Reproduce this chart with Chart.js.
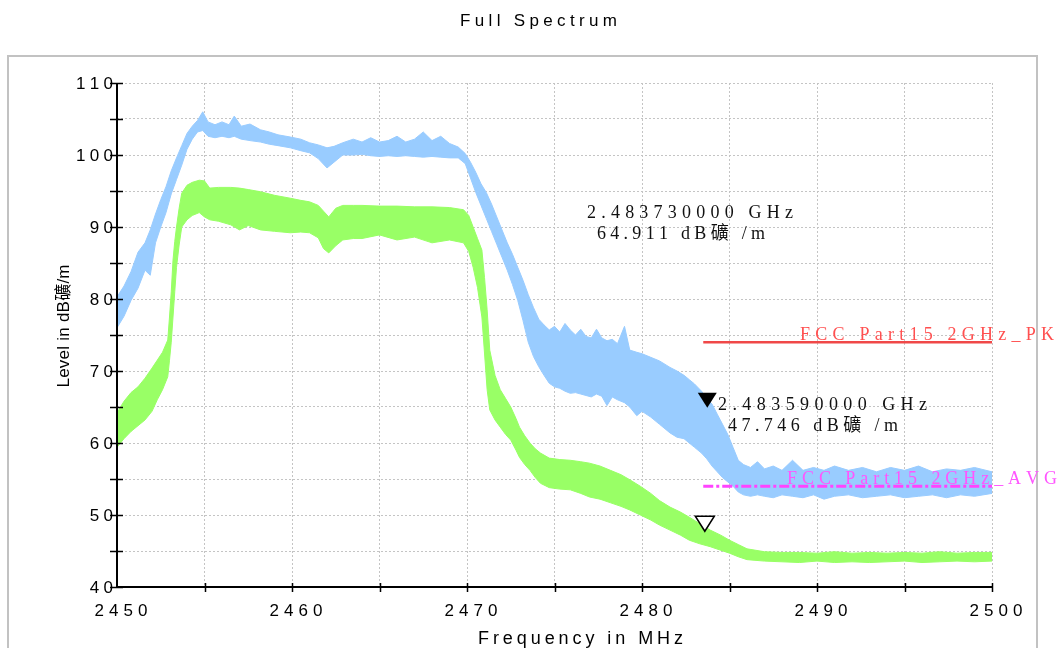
<!DOCTYPE html>
<html><head><meta charset="utf-8">
<script src="https://cdn.jsdelivr.net/npm/chart.js@4.4.1/dist/chart.umd.min.js"></script>
<style>html,body{margin:0;padding:0;background:#fff;overflow:hidden}canvas{display:block}</style>
</head><body>
<canvas id="c" width="1057" height="648"></canvas>
<script>
// ---- tick labels ----
const xTickLabels = [2450, 2460, 2470, 2480, 2490, 2500];
const yTickLabels = [40, 50, 60, 70, 80, 90, 100, 110];

// ---- peak trace (light blue) envelope: frequency MHz, upper / lower level dBuV/m ----
const blueFreq = [2450.0,2450.4,2450.8,2451.2,2451.6,2451.9,2452.2,2452.5,2452.8,2453.1,
  2453.4,2453.7,2454.0,2454.3,2454.6,2454.9,2455.2,2455.6,2456.0,2456.4,
  2456.7,2457.1,2457.6,2458.2,2458.7,2459.2,2459.9,2460.5,2461.0,2461.5,
  2462.0,2462.4,2462.9,2463.5,2464.0,2464.5,2465.0,2465.5,2466.0,2466.5,
  2467.0,2467.5,2468.0,2468.5,2469.0,2469.5,2469.9,2470.2,2470.5,2470.8,
  2471.1,2471.4,2471.7,2472.0,2472.3,2472.6,2472.9,2473.2,2473.5,2473.8,
  2474.1,2474.4,2474.7,2475.0,2475.3,2475.6,2475.9,2476.2,2476.5,2476.8,
  2477.1,2477.4,2477.7,2478.0,2478.3,2478.6,2479.0,2479.3,2479.7,2480.0,
  2480.5,2481.0,2481.6,2482.0,2482.4,2482.7,2483.0,2483.4,2483.7,2484.0,
  2484.3,2484.6,2484.9,2485.2,2485.5,2485.8,2486.2,2486.6,2487.0,2487.5,
  2488.0,2488.6,2489.2,2489.8,2490.4,2491.0,2491.8,2492.6,2493.4,2494.2,
  2495.0,2495.8,2496.6,2497.4,2498.2,2499.0,2500.0];
const blueUpper = [80.3,81.8,83.8,86.5,87.8,89.6,91.8,93.8,95.6,97.8,
  99.6,101.3,103.0,104.0,104.8,106.0,104.6,104.2,104.6,104.2,
  105.4,104.0,104.3,103.5,103.2,102.8,102.5,102.2,101.7,101.4,
  101.0,101.2,101.7,102.2,101.8,102.4,101.8,102.0,102.6,101.8,
  102.2,103.2,102.0,102.6,101.6,101.1,100.2,99.0,97.6,96.0,
  94.8,93.2,91.4,89.6,87.8,86.2,84.4,82.6,80.6,78.8,
  77.2,76.4,75.7,76.2,75.4,76.6,75.7,75.0,75.8,74.8,
  74.6,75.8,74.6,74.2,74.4,73.8,76.2,72.9,72.6,72.4,
  71.9,71.4,70.5,70.0,69.4,68.8,68.2,67.2,66.2,65.4,
  64.0,62.6,61.2,59.4,57.6,57.0,56.6,57.4,56.4,56.8,
  56.2,57.6,56.2,56.6,56.2,56.8,56.2,56.6,56.0,56.6,
  56.2,56.8,56.0,56.4,56.2,56.6,56.0];
const blueLower = [76.0,77.6,79.8,81.5,84.0,83.3,87.8,90.0,92.0,94.6,
  96.6,98.6,100.8,102.2,103.2,103.4,102.6,102.4,102.6,102.4,
  102.6,102.2,102.0,101.8,101.5,101.3,101.0,100.6,100.3,99.5,
  98.2,99.0,100.0,100.0,100.1,99.9,99.8,99.9,99.8,99.9,
  99.8,99.7,99.8,99.7,99.6,99.6,98.8,96.8,94.8,93.0,
  91.2,89.4,87.6,85.8,84.0,82.0,79.8,77.0,74.0,72.0,
  70.6,69.4,68.3,67.8,67.6,67.2,66.9,67.0,66.8,66.6,
  66.4,66.8,66.5,65.2,66.4,66.0,65.6,65.0,63.8,64.4,
  63.6,62.6,61.4,60.8,60.6,60.0,59.4,58.6,57.8,56.8,
  56.0,55.2,54.6,54.0,53.2,52.8,52.6,52.8,52.6,52.4,
  52.8,52.6,52.4,52.8,52.2,52.6,52.8,52.4,52.6,52.8,
  52.4,52.6,52.8,52.4,52.8,52.6,53.0];

// ---- average trace (green) envelope ----
const greenFreq = [2450.0,2450.4,2450.8,2451.2,2451.6,2452.0,2452.3,2452.6,2452.9,2453.0,
  2453.1,2453.2,2453.3,2453.4,2453.55,2453.7,2454.0,2454.3,2454.7,2455.0,
  2455.3,2455.8,2456.5,2457.0,2457.5,2458.2,2459.0,2459.9,2460.5,2461.0,
  2461.5,2461.8,2462.1,2462.5,2462.9,2463.5,2464.0,2465.0,2466.0,2467.0,
  2468.0,2469.0,2469.8,2470.1,2470.35,2470.6,2470.85,2471.0,2471.15,2471.3,
  2471.6,2471.9,2472.2,2472.5,2472.8,2473.0,2473.3,2473.6,2473.9,2474.2,
  2474.7,2475.3,2475.9,2476.5,2477.0,2477.6,2478.2,2478.8,2479.3,2479.9,
  2480.5,2481.0,2481.6,2482.2,2482.7,2483.3,2483.9,2484.5,2485.0,2485.5,
  2486.0,2487.0,2488.0,2489.0,2490.0,2491.0,2492.0,2493.0,2494.0,2495.0,
  2496.0,2497.0,2498.0,2499.0,2500.0];
const greenUpper = [64.2,65.8,67.0,67.8,69.0,70.4,71.5,72.6,74.3,77.5,
  81.0,85.4,88.0,90.0,92.6,94.7,95.8,96.2,96.5,96.4,
  95.4,95.5,95.5,95.4,95.2,94.9,94.4,94.0,93.7,93.5,
  93.0,92.2,91.4,92.6,93.0,93.0,93.0,92.9,92.9,92.8,
  92.8,92.7,92.4,91.6,90.0,88.4,86.8,83.0,78.5,72.9,
  69.4,67.4,66.2,65.0,63.4,62.2,61.0,60.0,59.2,58.6,
  57.9,57.7,57.6,57.4,57.2,56.8,56.2,55.6,54.9,54.0,
  53.0,52.0,51.1,50.4,49.7,48.8,47.9,47.2,46.5,45.9,
  45.3,44.9,44.8,44.8,44.7,44.9,44.7,44.8,44.7,44.8,
  44.7,44.9,44.7,44.8,44.8];
const greenLower = [59.4,60.6,61.6,62.4,63.2,64.4,66.0,67.4,69.2,71.5,
  74.0,77.5,81.0,84.4,87.5,90.0,91.0,91.6,92.0,91.4,
  91.0,90.8,90.3,89.6,90.2,89.6,89.4,89.2,89.3,89.2,
  88.5,87.0,86.4,87.4,88.2,88.4,88.4,88.9,88.2,88.6,
  87.8,88.2,87.8,86.6,84.4,81.6,77.5,72.5,67.4,64.6,
  63.2,62.2,61.2,60.4,59.0,58.0,57.0,56.2,55.2,54.4,
  53.8,53.6,53.5,53.0,52.5,52.2,51.7,51.2,50.7,50.0,
  49.3,48.6,47.9,47.2,46.5,46.0,45.6,45.1,44.7,44.2,
  43.8,43.6,43.5,43.4,43.6,43.4,43.5,43.4,43.5,43.6,
  43.4,43.5,43.6,43.5,43.6];

// ---- limit lines ----
const limitFreq = [2483.5, 2500];
const pkLimit = [74, 74];
const avgLimit = [54, 54];

// ---- markers ----
const markerFreq = [2483.73, 2483.59];
const markerLevel = [64.911, 47.746];
const markerFilled = [true, false];

// ---- texts ----
const titleText = 'Full Spectrum';
const xTitle = 'Frequency in MHz';
const yTitle = 'Level in dB礦/m';
const m1Lines = ['2.483730000 GHz', '64.911 dB礦 /m'];
const m2Lines = ['2.483590000 GHz', '47.746 dB礦 /m'];
const pkLabel = 'FCC Part15 2GHz_PK';
const avgLabel = 'FCC Part15 2GHz_AVG';

const BLUE = '#99ccff', GREEN = '#99ff66';
const SANS = '"Liberation Sans", Arial, "Noto Sans CJK SC", sans-serif';
const SERIF = '"Liberation Serif", "Times New Roman", "Noto Sans CJK SC", serif';

function pts(xs, ys) { return xs.map((x, i) => ({ x: x, y: ys[i] })); }

function natWidth(ctx, chars) { return chars.reduce((a, c) => a + ctx.measureText(c).width, 0); }
// draw text with a given letter spacing
function spaced(ctx, text, x, y, spacing, align) {
  const chars = Array.from(text);
  const total = natWidth(ctx, chars) + spacing * (chars.length - 1);
  let sx = align === 'center' ? x - total / 2 : (align === 'right' ? x - total : x);
  ctx.textAlign = 'left';
  for (const c of chars) { ctx.fillText(c, sx, y); sx += ctx.measureText(c).width + spacing; }
}
// draw text stretched to a target width
function fitted(ctx, text, x, y, width, align) {
  const chars = Array.from(text);
  const sp = chars.length > 1 ? (width - natWidth(ctx, chars)) / (chars.length - 1) : 0;
  spaced(ctx, text, x, y, sp, align);
}

const decor = {
  id: 'decor',
  beforeDraw(chart) {
    const ctx = chart.ctx;
    ctx.save();
    ctx.fillStyle = '#fff';
    ctx.fillRect(0, 0, chart.width, chart.height);
    ctx.strokeStyle = '#c2c2c2';
    ctx.lineWidth = 2;
    ctx.strokeRect(8, 56, 1029, 700);
    ctx.restore();
  },
  afterDatasetsDraw(chart) {
    const ctx = chart.ctx, xs = chart.scales.x, ys = chart.scales.y, a = chart.chartArea;
    ctx.save();
    // markers
    markerFreq.forEach((f, i) => {
      const px = xs.getPixelForValue(f), py = ys.getPixelForValue(markerLevel[i]);
      ctx.beginPath();
      ctx.moveTo(px, py);
      ctx.lineTo(px - 9.5, py - 15);
      ctx.lineTo(px + 9.5, py - 15);
      ctx.closePath();
      if (markerFilled[i]) { ctx.fillStyle = '#000'; ctx.fill(); }
      else { ctx.fillStyle = '#fff'; ctx.fill(); ctx.strokeStyle = '#000'; ctx.lineWidth = 1.5; ctx.stroke(); }
    });
    // axes
    ctx.strokeStyle = '#000';
    ctx.lineWidth = 2;
    ctx.beginPath();
    ctx.moveTo(a.left, a.top); ctx.lineTo(a.left, a.bottom); ctx.lineTo(a.right, a.bottom);
    ctx.stroke();
    ctx.lineWidth = 1.5;
    ctx.beginPath();
    for (let v = 40; v <= 110; v += 5) {
      const py = Math.round(ys.getPixelForValue(v)) + 0.5;
      ctx.moveTo(a.left - 7, py); ctx.lineTo(a.left + 6, py);
    }
    for (let f = 2455; f <= 2500; f += 5) {
      const px = Math.round(xs.getPixelForValue(f)) + 0.5;
      ctx.moveTo(px, a.bottom - 4); ctx.lineTo(px, a.bottom + 5);
    }
    ctx.stroke();
    // tick labels
    ctx.fillStyle = '#000';
    ctx.font = '17px ' + SANS;
    ctx.textBaseline = 'alphabetic';
    yTickLabels.forEach(v => {
      const py = ys.getPixelForValue(v);
      spaced(ctx, String(v), a.left - 4, py + 6, 4.3, 'right');
    });
    xTickLabels.forEach(v => {
      const px = xs.getPixelForValue(v);
      spaced(ctx, String(v), px + 4, a.bottom + 29, 5, 'center');
    });
    // titles
    ctx.font = '17px ' + SANS;
    fitted(ctx, titleText, 538.5, 26, 157, 'center');
    ctx.font = '18px ' + SANS;
    fitted(ctx, xTitle, 580.5, 644, 205, 'center');
    ctx.save();
    ctx.translate(69, 326);
    ctx.rotate(-Math.PI / 2);
    ctx.font = '17px ' + SANS;
    fitted(ctx, yTitle, 0, 0, 123, 'center');
    ctx.restore();
    // marker readouts
    ctx.fillStyle = '#111';
    ctx.font = '18px ' + SERIF;
    fitted(ctx, m1Lines[0], 587, 218, 206, 'left');
    fitted(ctx, m1Lines[1], 597, 239, 168, 'left');
    fitted(ctx, m2Lines[0], 718, 410, 209, 'left');
    fitted(ctx, m2Lines[1], 728, 431, 170, 'left');
    // limit labels
    ctx.fillStyle = '#ff5050';
    fitted(ctx, pkLabel, 800, 340, 254, 'left');
    ctx.fillStyle = '#ff55ff';
    fitted(ctx, avgLabel, 787, 484, 270, 'left');
    ctx.restore();
  }
};

const gridOpts = { color: '#c4c4c4', lineWidth: 1, drawTicks: false };
new Chart(document.getElementById('c'), {
  type: 'line',
  data: {
    datasets: [
      { data: pts(limitFreq, avgLimit), borderColor: '#ff44ff', borderWidth: 3, borderDash: [10, 3, 3, 3], pointRadius: 0, fill: false, order: 0 },
      { data: pts(limitFreq, pkLimit), borderColor: '#f04848', borderWidth: 2.5, pointRadius: 0, fill: false, order: 0 },
      { data: pts(greenFreq, greenUpper), borderColor: GREEN, backgroundColor: GREEN, borderWidth: 1, pointRadius: 0, fill: '+1', order: 1 },
      { data: pts(greenFreq, greenLower), borderColor: GREEN, borderWidth: 1, pointRadius: 0, fill: false, order: 1 },
      { data: pts(blueFreq, blueUpper), borderColor: BLUE, backgroundColor: BLUE, borderWidth: 1, pointRadius: 0, fill: '+1', order: 2 },
      { data: pts(blueFreq, blueLower), borderColor: BLUE, borderWidth: 1, pointRadius: 0, fill: false, order: 2 }
    ]
  },
  options: {
    responsive: false, animation: false, devicePixelRatio: 1,
    layout: { padding: { left: 117, right: 65, top: 83, bottom: 61 } },
    plugins: { legend: { display: false }, tooltip: { enabled: false }, title: { display: false } },
    elements: { line: { tension: 0 } },
    scales: {
      x: { type: 'linear', min: 2450, max: 2500, ticks: { display: false, stepSize: 5 }, grid: gridOpts, border: { display: false, dash: [2, 2] } },
      y: { type: 'linear', min: 40, max: 110, ticks: { display: false, stepSize: 5 }, grid: gridOpts, border: { display: false, dash: [2, 2] } }
    }
  },
  plugins: [decor]
});
</script>
</body></html>
